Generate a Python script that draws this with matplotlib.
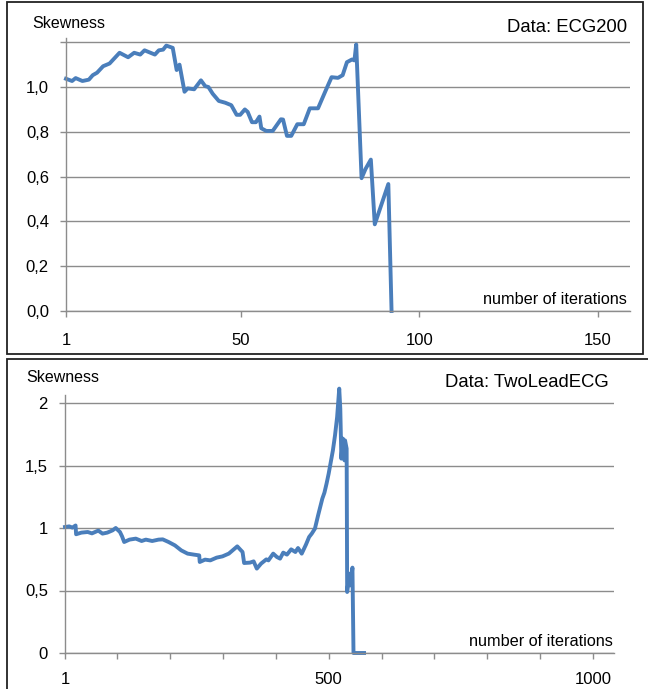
import matplotlib
matplotlib.use("Agg")
import matplotlib.pyplot as plt
from matplotlib.patches import Rectangle

plt.rcParams['font.family'] = ['Liberation Sans', 'DejaVu Sans']

W, H = 648, 689
LINE_COLOR = '#4a7ebb'
GRID_COLOR = '#8c8c8c'

# ECG200 panel
ecg_x = [1, 2.7, 3.7, 5.6, 7.4, 8.5, 9.7, 11.4, 13.2, 16, 18.4, 20.1, 21.8, 23, 25.9,
         27, 28.2, 29.1, 30.9, 32, 32.8, 34.2, 35.1, 36.9, 38.8, 40, 40.9, 42.1, 43.8,
         45.6, 47.3, 48.8, 49.8, 51.1, 51.9, 53.1, 54.2, 55.2, 55.7, 57.1, 58.9, 61.2,
         61.8, 62.9, 64.1, 65.8, 67.6, 69.3, 71.6, 73.9, 75.4, 77.2, 78.5, 79.7, 81.1,
         81.8, 82.3, 83.8, 84.9, 86.4, 87.5, 91.3, 92.2]
ecg_y = [1.037, 1.027, 1.04, 1.027, 1.033, 1.053, 1.064, 1.093, 1.105, 1.153, 1.133,
         1.153, 1.145, 1.164, 1.145, 1.164, 1.167, 1.185, 1.175, 1.076, 1.10, 0.979,
         0.994, 0.99, 1.03, 1.004, 1.0, 0.97, 0.938, 0.93, 0.919, 0.876, 0.876, 0.9,
         0.889, 0.843, 0.843, 0.868, 0.816, 0.804, 0.804, 0.856, 0.855, 0.782, 0.782,
         0.834, 0.834, 0.905, 0.905, 0.99, 1.044, 1.041, 1.053, 1.111, 1.123, 1.119,
         1.19, 0.593, 0.634, 0.676, 0.387, 0.567, 0.0]
ecg_yticks = [0, 0.2, 0.4, 0.6, 0.8, 1.0, 1.2]
ecg_ylabels = ['0,0', '0,2', '0,4', '0,6', '0,8', '1,0', '']
ecg_xticks = [1, 50, 100, 150]

# TwoLeadECG panel
two_x = [1, 9, 15, 21, 22, 32, 44, 52, 64, 72, 81, 91, 97, 105, 109, 113, 123, 135,
         146, 154, 166, 178, 186, 197, 209, 221, 233, 245, 255, 256, 266, 276, 288,
         299, 311, 319, 327, 331, 337, 340, 351, 358, 364, 372, 382, 386, 395, 402,
         408, 414, 421, 429, 437, 442, 449, 457, 463, 468, 474, 480, 484, 488, 492,
         496, 500, 504, 508, 512, 516, 520, 522, 524, 527, 530, 531, 534, 535, 539,
         541, 545, 547, 567]
two_y = [1.008, 1.013, 1.003, 1.02, 0.95, 0.963, 0.968, 0.957, 0.979, 0.955, 0.963,
         0.981, 1.0, 0.968, 0.933, 0.888, 0.907, 0.915, 0.896, 0.907, 0.896, 0.907,
         0.909, 0.888, 0.861, 0.821, 0.795, 0.787, 0.781, 0.728, 0.747, 0.741, 0.763,
         0.773, 0.795, 0.824, 0.853, 0.835, 0.808, 0.72, 0.723, 0.733, 0.675, 0.715,
         0.749, 0.741, 0.795, 0.768, 0.755, 0.803, 0.787, 0.829, 0.808, 0.84, 0.795,
         0.867, 0.928, 0.955, 0.995, 1.101, 1.168, 1.235, 1.283, 1.355, 1.435, 1.528,
         1.621, 1.741, 1.888, 2.115, 1.955, 1.555, 1.715, 1.541, 1.701, 1.635, 0.488,
         0.635, 0.541, 0.683, 0.0, 0.0]
two_yticks = [0, 0.5, 1, 1.5, 2]
two_ylabels = ['0', '0,5', '1', '1,5', '2']
two_xticks = [1, 100, 200, 300, 400, 500, 600, 700, 800, 900, 1000]
two_xlabels = ['1', '', '', '', '', '500', '', '', '', '', '1000']


def px_axes(fig, left, right, top, bottom):
    return fig.add_axes([left / W, 1 - bottom / H, (right - left) / W, (bottom - top) / H])


def style(ax, xpad):
    for s in ['top', 'right']:
        ax.spines[s].set_visible(False)
    for s in ['left', 'bottom']:
        ax.spines[s].set_color(GRID_COLOR)
        ax.spines[s].set_linewidth(1.0)
    ax.yaxis.grid(True, color=GRID_COLOR, linewidth=1.0)
    ax.set_axisbelow(True)
    ax.tick_params(axis='y', length=4.3, width=1.0, color=GRID_COLOR, pad=8, labelsize=12)
    ax.tick_params(axis='x', length=4, width=1.0, color=GRID_COLOR, pad=xpad, labelsize=12)


def ftext(fig, x, y, s, **kw):
    fig.text(x / W, 1 - y / H, s, va='baseline', **kw)


fig = plt.figure(figsize=(W / 100, H / 100), dpi=100)

# panel frames
fig.add_artist(Rectangle((7 / W, 1 - 354 / H), 636 / W, 352 / H, transform=fig.transFigure,
                         fill=False, edgecolor='#222222', linewidth=1.3))
fig.add_artist(Rectangle((7 / W, -0.01), 660 / W, 1 - 359 / H + 0.01, transform=fig.transFigure,
                         fill=False, edgecolor='#222222', linewidth=1.3))

ax1 = px_axes(fig, 66, 630, 38, 311)
ax1.plot(ecg_x, ecg_y, color=LINE_COLOR, linewidth=2.8, solid_joinstyle='round', clip_on=False)
ax1.set_xlim(1, 159)
ax1.set_ylim(0, 1.219)
ax1.set_yticks(ecg_yticks)
ax1.set_yticklabels(ecg_ylabels)
ax1.set_xticks(ecg_xticks)
style(ax1, 12)
ftext(fig, 32, 28, 'Skewness', fontsize=11.5)
ftext(fig, 627, 32, 'Data: ECG200', fontsize=13.3, ha='right')
ftext(fig, 627, 304, 'number of iterations', fontsize=11.7, ha='right')

ax2 = px_axes(fig, 65, 614, 395, 653)
ax2.plot(two_x, two_y, color=LINE_COLOR, linewidth=2.8, solid_joinstyle='round', clip_on=False)
ax2.set_xlim(1, 1040)
ax2.set_ylim(0, 2.064)
ax2.set_yticks(two_yticks)
ax2.set_yticklabels(two_ylabels)
ax2.set_xticks(two_xticks)
ax2.set_xticklabels(two_xlabels)
style(ax2, 10)
ftext(fig, 26, 382, 'Skewness', fontsize=11.5)
ftext(fig, 609, 387, 'Data: TwoLeadECG', fontsize=13.3, ha='right')
ftext(fig, 613, 646, 'number of iterations', fontsize=11.7, ha='right')

fig.savefig('out.png', dpi=100)
